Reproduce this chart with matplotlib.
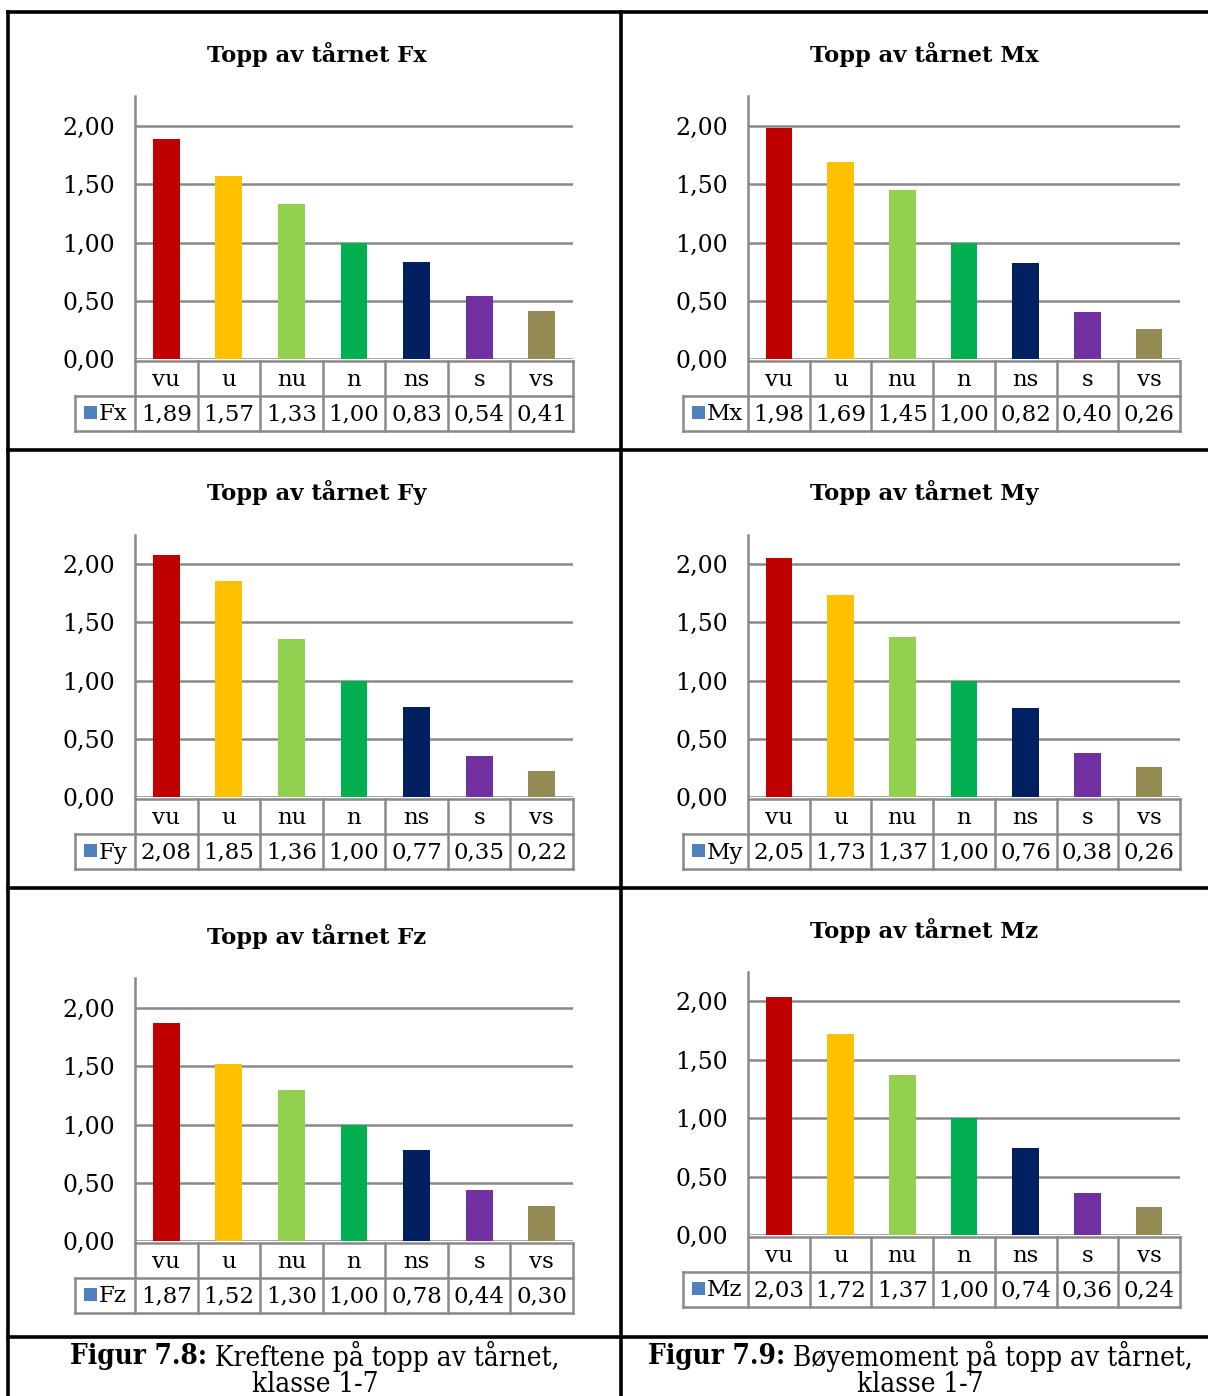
import matplotlib
matplotlib.use("Agg")
import matplotlib.pyplot as plt
from matplotlib.patches import Rectangle
from matplotlib.lines import Line2D

# ---- data ----
categories = ["vu", "u", "nu", "n", "ns", "s", "vs"]
bar_colors = ["#C00000", "#FFC000", "#92D050", "#00B050", "#002060", "#7030A0", "#948A54"]

fx_values = [1.89, 1.57, 1.33, 1.00, 0.83, 0.54, 0.41]
mx_values = [1.98, 1.69, 1.45, 1.00, 0.82, 0.40, 0.26]
fy_values = [2.08, 1.85, 1.36, 1.00, 0.77, 0.35, 0.22]
my_values = [2.05, 1.73, 1.37, 1.00, 0.76, 0.38, 0.26]
fz_values = [1.87, 1.52, 1.30, 1.00, 0.78, 0.44, 0.30]
mz_values = [2.03, 1.72, 1.37, 1.00, 0.74, 0.36, 0.24]

y_ticks = [0.0, 0.5, 1.0, 1.5, 2.0]

captions = [
    ("Figur 7.8:", " Kreftene på topp av tårnet,", "klasse 1-7"),
    ("Figur 7.9:", " Bøyemoment på topp av tårnet,", "klasse 1-7"),
]

W, H = 1208, 1396
fig = plt.figure(figsize=(W / 100, H / 100), dpi=100)
FONT = "DejaVu Serif"
GRID = "#898989"
LEGEND_BLUE = "#4F81BD"


def fx_(x):
    return x / W


def fy_(y):
    return 1 - y / H


def panel(name, values, left, right, top, y0, y2, title_y, legend_left, row_h=35):
    ax = fig.add_axes([fx_(left), fy_(y0), fx_(right - left), (y0 - top) / H])
    ymax = 2.0 * (y0 - top) / (y0 - y2)
    ax.set_ylim(0, ymax)
    ax.set_xlim(-0.5, len(categories) - 0.5)
    ax.set_axisbelow(True)
    ax.bar(range(len(categories)), values, width=0.43, color=bar_colors, zorder=3)
    ax.set_yticks(y_ticks)
    ax.set_yticklabels([f"{t:.2f}".replace(".", ",") for t in y_ticks],
                       fontfamily=FONT, fontsize=17)
    ax.tick_params(axis="y", length=0, pad=14.5)
    ax.set_xticks([])
    ax.yaxis.grid(True, color=GRID, linewidth=1.8, zorder=0)
    for s in ("top", "right", "bottom"):
        ax.spines[s].set_visible(False)
    ax.spines["left"].set_color(GRID)
    ax.spines["left"].set_linewidth(1.8)
    ax.patch.set_alpha(0)

    # chart title
    fig.text(fx_((legend_left + right) / 2 - 7), fy_(title_y), f"Topp av tårnet {name}",
             ha="center", va="center", fontfamily=FONT, fontweight="bold", fontsize=16.3)

    # data table below the axis
    t0 = y0 + 2
    t1 = t0 + row_h
    t2 = t1 + row_h
    cell = (right - left) / len(categories)
    lk = dict(color=GRID, linewidth=1.8, transform=fig.transFigure, solid_capstyle="projecting")
    fig.add_artist(Line2D([fx_(left), fx_(right)], [fy_(t0), fy_(t0)], **lk))
    fig.add_artist(Line2D([fx_(legend_left), fx_(right)], [fy_(t1), fy_(t1)], **lk))
    fig.add_artist(Line2D([fx_(legend_left), fx_(right)], [fy_(t2), fy_(t2)], **lk))
    for i in range(len(categories) + 1):
        x = left + i * cell
        fig.add_artist(Line2D([fx_(x), fx_(x)], [fy_(t0), fy_(t2)], **lk))
    fig.add_artist(Line2D([fx_(legend_left), fx_(legend_left)], [fy_(t1), fy_(t2)], **lk))
    for i, (c, v) in enumerate(zip(categories, values)):
        xc = left + (i + 0.5) * cell
        fig.text(fx_(xc), fy_((t0 + t1) / 2 + 1), c, ha="center", va="center",
                 fontfamily=FONT, fontsize=16.5)
        fig.text(fx_(xc), fy_((t1 + t2) / 2 + 1), f"{v:.2f}".replace(".", ","),
                 ha="center", va="center", fontfamily=FONT, fontsize=16.5)
    # legend key
    sq = 13
    fig.add_artist(Rectangle((fx_(legend_left + 9), fy_((t1 + t2) / 2 + sq / 2 - 1)),
                             sq / W, sq / H, transform=fig.transFigure,
                             color=LEGEND_BLUE, linewidth=0))
    fig.text(fx_(legend_left + 24), fy_((t1 + t2) / 2 + 1), name, ha="left", va="center",
             fontfamily=FONT, fontsize=16.5)
    return ax


panel("Fx", fx_values, 135, 573, 96, 359, 126, 54, 75)
panel("Mx", mx_values, 748, 1180, 96, 359, 126, 54, 683)
panel("Fy", fy_values, 135, 573, 535, 797, 564, 492, 75)
panel("My", my_values, 748, 1180, 535, 797, 564, 492, 683)
panel("Fz", fz_values, 135, 573, 978, 1241, 1008, 936, 75)
panel("Mz", mz_values, 748, 1180, 972, 1235, 1001, 930, 683)

# outer table frame
bk = dict(color="black", linewidth=2.6, transform=fig.transFigure)
for yy in (12, 450, 888, 1337):
    fig.add_artist(Line2D([fx_(8), fx_(1208)], [fy_(yy), fy_(yy)], **bk))
for xx in (8, 621):
    fig.add_artist(Line2D([fx_(xx), fx_(xx)], [fy_(12), fy_(1396)], **bk))

# captions: bold lead-in followed by regular text, centered per column
renderer = fig.canvas.get_renderer()
for (bold, rest, line2), xc in zip(captions, (315, 920)):
    kw = dict(fontfamily=FONT, fontsize=20, va="center", fontstretch="condensed")
    tb = fig.text(0, fy_(1356), bold, fontweight="bold", **kw)
    tr = fig.text(0, fy_(1356), rest, **kw)
    wb = tb.get_window_extent(renderer).width
    wr = tr.get_window_extent(renderer).width
    x0 = xc - (wb + wr) / 2
    tb.set_x(fx_(x0))
    tr.set_x(fx_(x0 + wb))
    fig.text(fx_(xc), fy_(1384), line2, ha="center", **kw)

fig.savefig("out.png", dpi=100)
